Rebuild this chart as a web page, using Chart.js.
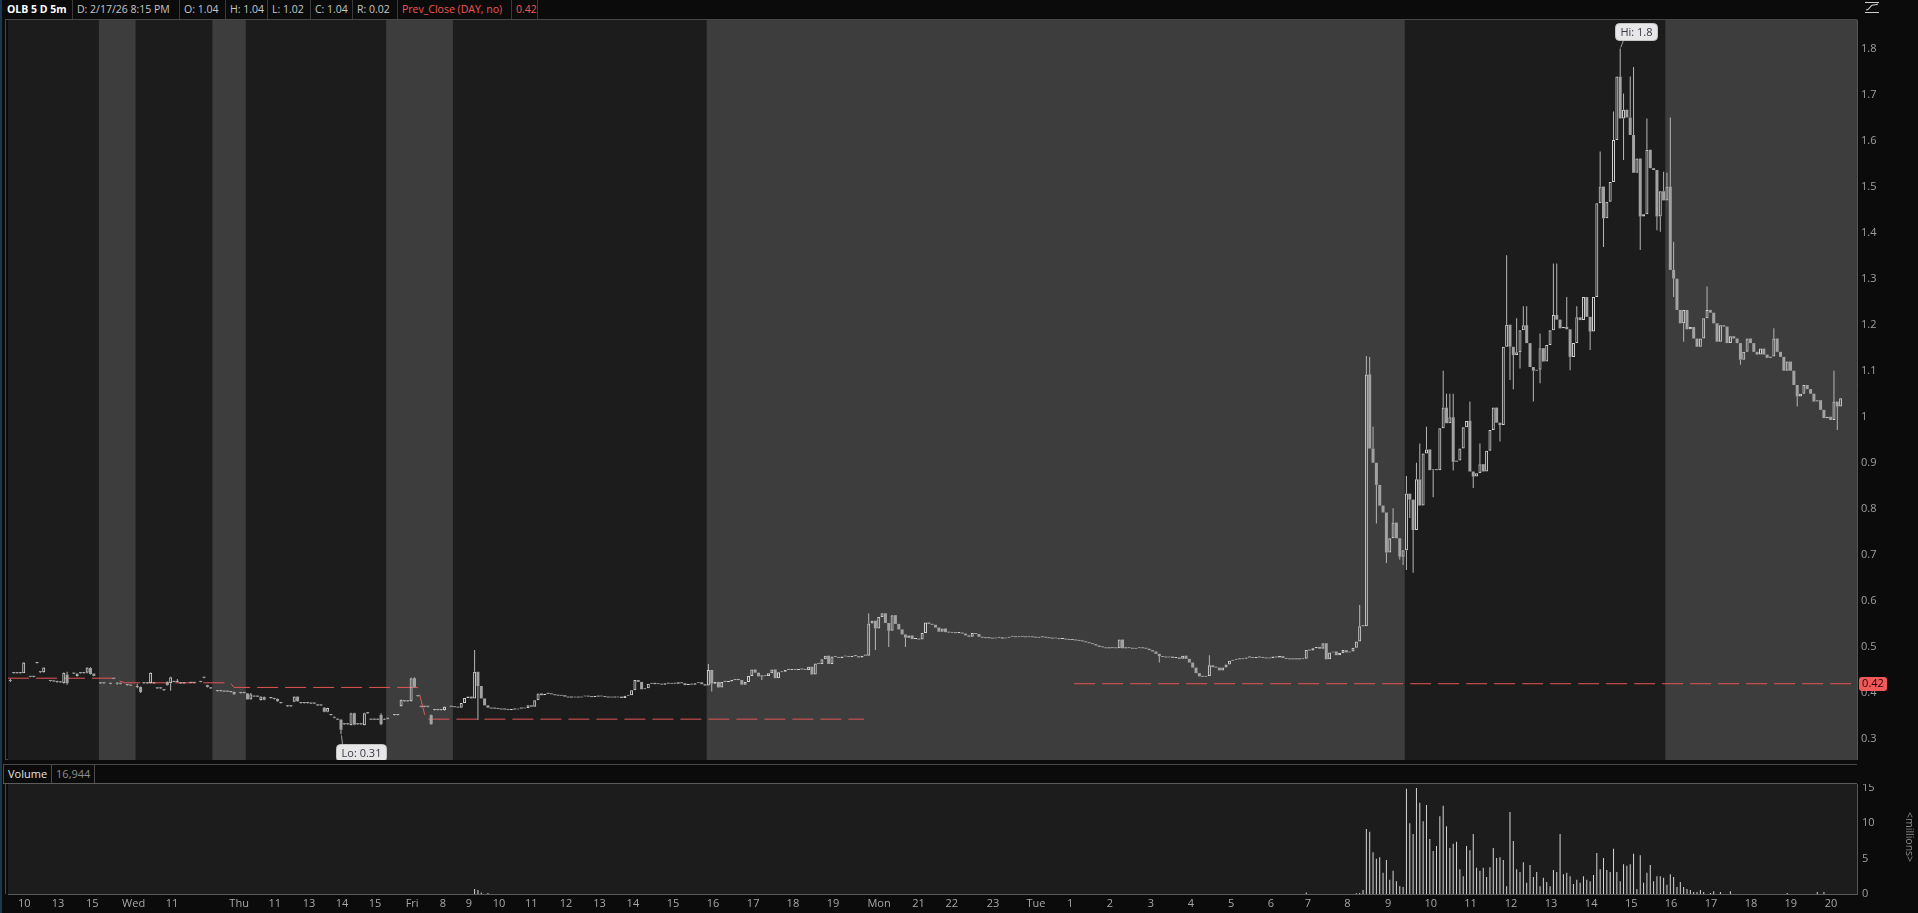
<!DOCTYPE html>
<html>
<head>
<meta charset="utf-8">
<title>OLB 5 D 5m</title>
<script src="https://cdn.jsdelivr.net/npm/chart.js@4.4.1/dist/chart.umd.min.js"></script>
<style>
  html, body { margin: 0; padding: 0; background: #0b0b0b; }
  body { width: 1918px; height: 913px; position: relative; overflow: hidden; font-family: 'Open Sans', sans-serif; }
  .abs { position: absolute; }
  #edge { left: 0; top: 0; width: 2px; height: 913px; background: #173752; }
  #topbar { left: 3px; top: 0; height: 19px; display: flex; font-size: 10.5px; line-height: 19px; }
  #topbar span { display: block; border-right: 1px solid #3a3a3a; padding-left: 4px; white-space: nowrap; color: #c6c6c6; box-sizing: border-box; }
  #topbar .sym { color: #fff; font-weight: 700; }
  #topbar .red { color: #f05656; }
  #panel { left: 5px; top: 19px; width: 1852px; height: 741px; border: 1px solid #474747; border-right: none; box-sizing: border-box; }
  #volHead { left: 3px; top: 764px; width: 1854px; height: 20px; border-top: 1px solid #4a4a4a; border-bottom: 1px solid #5c5c5c; box-sizing: border-box; display: flex; font-size: 11px; line-height: 18px; }
  #volHead span { display: block; border-right: 1px solid #4a4a4a; padding: 0 4px; box-sizing: border-box; }
  #volHead .name { color: #e2e2e2; border-left: 1px solid #4a4a4a; }
  #volHead .val { color: #8e8e8e; }
  #volPanel { left: 5px; top: 784px; width: 3px; height: 110px; border-left: 1px solid #474747; box-sizing: border-box; }
  #millions { left: 1903px; top: 812px; writing-mode: vertical-rl; color: #8a8a8a; font-size: 10.5px; }
  #icon { left: 1864px; top: 1px; }
  #priceCanvas { left: 8px; top: 20px; }
  #volCanvas { left: 8px; top: 784px; }
</style>
</head>
<body>
<div id="edge" class="abs"></div>
<div id="topbar" class="abs">
  <span class="sym" style="width:70px">OLB 5 D 5m</span>
  <span style="width:107px">D: 2/17/26 8:15 PM</span>
  <span style="width:46px">O: 1.04</span>
  <span style="width:42px">H: 1.04</span>
  <span style="width:43px">L: 1.02</span>
  <span style="width:42px">C: 1.04</span>
  <span style="width:45px">R: 0.02</span>
  <span class="red" style="width:114px">Prev_Close (DAY, no)</span>
  <span class="red" style="width:26px">0.42</span>
</div>
<svg id="icon" class="abs" width="16" height="13" viewBox="0 0 16 13">
  <path d="M1 1.5 H15 M1 11.5 H15" stroke="#cfcfcf" stroke-width="1"/>
  <path d="M2 9 C6 9 6 4 9 4 C11 4 12 4 14 3" stroke="#cfcfcf" stroke-width="1.2" fill="none"/>
</svg>
<div id="panel" class="abs"></div>
<canvas id="priceCanvas" class="abs" width="1910" height="740"></canvas>
<div id="volHead" class="abs"><span class="name">Volume</span><span class="val">16,944</span></div>
<div id="volPanel" class="abs"></div>
<canvas id="volCanvas" class="abs" width="1910" height="129"></canvas>
<div id="millions" class="abs">&lt;millions&gt;</div>

<script>
// time axis: one slot per 5-minute bar that exists in the feed
const X_MIN = -0.7, X_MAX = 552.9;

// sparse bars at the start of the week: [slot, open, high, low, close]
const earlyBars = [
  [0,.428,.430,.424,.426],[1,.443,.444,.442,.443],[2,.443,.444,.442,.443],[3,.443,.445,.442,.443],
  [4,.443,.467,.443,.466],[6,.436,.437,.434,.435],[7,.435,.436,.434,.435],[8,.465,.466,.464,.465],
  [9,.445,.446,.444,.445],[10,.445,.456,.444,.455],[12,.427,.428,.425,.426],[13,.426,.427,.424,.425],
  [14,.424,.426,.422,.424],[15,.424,.425,.422,.423],[16,.421,.445,.420,.444],[17,.440,.446,.418,.421],
  [19,.443,.444,.441,.442],[20,.436,.443,.435,.442],[21,.443,.444,.442,.443],[22,.443,.444,.442,.443],
  [23,.444,.456,.443,.455],[24,.454,.456,.440,.441],[25,.442,.443,.436,.437],
  [27,.421,.422,.420,.421],[28,.421,.422,.420,.421],[30,.420,.421,.419,.420],[31,.431,.432,.430,.431],
  [32,.421,.423,.418,.420],[33,.420,.421,.419,.420],[35,.417,.418,.416,.417],[36,.417,.418,.415,.416],
  [38,.413,.420,.410,.413],[39,.413,.414,.400,.402],[40,.421,.422,.420,.421],[41,.421,.422,.420,.421],
  [42,.421,.445,.420,.444],[43,.421,.422,.420,.421],[44,.410,.411,.409,.410],[45,.410,.411,.409,.410],
  [46,.406,.407,.405,.406],[47,.424,.425,.416,.417],[48,.421,.435,.405,.434],[49,.424,.425,.423,.424],
  [50,.424,.430,.423,.424],[51,.421,.422,.420,.421],[52,.421,.422,.420,.421],[54,.422,.423,.421,.422],
  [55,.422,.423,.421,.422],[57,.424,.425,.423,.424],[58,.433,.434,.432,.433],[59,.417,.418,.412,.413],
  [60,.410,.411,.409,.410],[62,.404,.405,.403,.404],[63,.404,.405,.403,.404],[64,.403,.404,.402,.403],
  [65,.403,.404,.402,.403],[66,.402,.403,.401,.402],[67,.402,.403,.396,.397],[69,.400,.401,.399,.400],
  [70,.400,.401,.399,.400],[71,.399,.400,.385,.386],[72,.386,.400,.385,.397],[73,.394,.395,.391,.392],
  [74,.392,.393,.391,.392],[75,.384,.393,.383,.392],[76,.391,.392,.384,.385],[78,.389,.390,.388,.389],
  [79,.387,.388,.386,.387],[80,.387,.388,.381,.382],[81,.378,.379,.377,.378],[83,.371,.372,.370,.371],
  [84,.371,.372,.370,.371],[85,.381,.393,.380,.392],[86,.392,.393,.381,.382],[87,.378,.379,.377,.378],
  [88,.378,.379,.377,.378],[89,.378,.379,.377,.378],[90,.377,.378,.376,.377],[91,.377,.378,.376,.377],
  [92,.373,.374,.372,.373],[93,.373,.374,.372,.373],[94,.368,.369,.358,.359],[95,.359,.368,.358,.367],
  [96,.352,.353,.351,.352],[97,.348,.349,.345,.346],[98,.342,.343,.341,.342],[99,.342,.343,.310,.320],
  [100,.332,.333,.331,.332],[101,.332,.333,.331,.332],[102,.330,.357,.329,.356],[103,.356,.357,.330,.331],
  [104,.332,.333,.331,.332],[105,.332,.333,.331,.332],[106,.330,.357,.329,.356],[107,.356,.357,.355,.356],
  [108,.342,.343,.341,.342],[109,.342,.343,.341,.342],[110,.342,.343,.341,.342],[111,.352,.356,.330,.332],
  [112,.342,.345,.341,.344],[113,.344,.345,.343,.344],[115,.352,.353,.351,.352],[116,.352,.353,.351,.352],
  [117,.371,.386,.370,.385],[118,.382,.383,.381,.382],[119,.382,.383,.381,.382],[120,.382,.433,.381,.432],
  [121,.432,.434,.412,.413],[122,.393,.394,.392,.393],[123,.370,.371,.369,.370],[124,.370,.371,.369,.370],
  [125,.370,.371,.369,.370],[126,.352,.353,.331,.332],[127,.363,.364,.362,.363],[128,.363,.364,.362,.363],
  [129,.363,.364,.362,.363],[130,.363,.371,.362,.370]
];

// continuous bars from slot 132 on: closes (each bar opens at the previous close)
const denseStart = 132;
const denseOpen = 0.370;
const friCloses = [
  .370,.369,.368,.378,.389,.392,.388,.446,.415,.388,
  .373,.368,.366,.366,.365,.364,.364,.363,.364,.364,
  .366,.366,.367,.373,.370,.384,.399,.395,.398,.398,
  .397,.395,.394,.395,.392,.390,.390,.391,.390,.392,
  .393,.392,.391,.392,.392,.393,.391,.390,.391,.390,
  .392,.389,.394,.395,.406,.428,.424,.408,.410,.420,
  .422,.419,.420,.418,.421,.420,.422,.420,.423,.421,
  .417,.420,.418,.421,.423,.419,.416,.450,.420,.424,
  .412,.424,.424,.425,.428,.428,.428,.418,.424,.437,
  .451,.444,.436,.436,.437,.443,.451,.432,.445,.446,
  .450,.450,.451,.450,.451,.451,.450,.457,.440,.464,
  .463,.473,.481,.463,.479,.478,.476,.479,.480,.478,
  .480,.480,.477,.481,.481
];
const overnightCloses = [
  .551,.557,.540,.565,.573,.552,.535,.569,.550,.538,
  .527,.520,.525,.517,.518,.516,.530,.553,.550,.548,
  .542,.533,.540,.532,.531,.532,.530,.531,.529,.525,
  .522,.530,.528,.522,.520,.519,.519,.518,.520,.521,
  .518,.520,.522,.523,.521,.522,.523,.521,.522,.521,
  .520,.522,.521,.520,.519,.518,.519,.517,.518,.516,
  .515,.515,.514,.513,.512,.510,.508,.506,.503,.500,
  .499,.497,.497,.498,.497,.516,.497,.497,.498,.496,
  .497,.498,.497,.496,.493,.490,.485,.480,.478,.477,
  .479,.476,.477,.474,.481,.474,.466,.455,.443,.436,
  .435,.437,.460,.456,.455,.449,.455,.462,.470,.472,
  .473,.473,.474,.477,.477,.476,.478,.477,.476,.475,
  .476,.479,.477,.480,.476,.474,.473,.473,.473,.473,
  .474,.493,.492,.497,.500,.496,.508,.473,.488,.490,
  .482,.487,.493,.488,.490,.498,.512,.545,.545,1.092,
  .931,.900,.852,.807,.792,.705,.736,.770,.736,.696,
  .710
];
const sessionCloses = [
  .833,.820,.754,.864,.807,.920,.929,.884,.886,.884,
  .975,1.020,.986,.999,.902,.905,.931,.977,.991,.881,
  .870,.877,.897,.881,.926,.971,1.020,.987,.982,1.152,
  1.200,1.152,1.134,1.140,1.188,1.199,1.160,1.108,1.100,1.102,
  1.149,1.120,1.156,1.188,1.221,1.211,1.192,1.195,1.190,1.130,
  1.160,1.216,1.210,1.260,1.217,1.185,1.260,1.464,1.500,1.431,
  1.467,1.510,1.601,1.739,1.648,1.667,1.650,1.612,1.530,1.561,
  1.435,1.440,1.580,1.540,1.536,1.435,1.490,1.470
];
const afterCloses = [
  1.500,1.319,1.300,1.232,1.203,1.232,1.190,1.195,1.170,1.152,
  1.170,1.214,1.232,1.226,1.203,1.163,1.199,1.196,1.160,1.175,
  1.170,1.160,1.124,1.141,1.170,1.160,1.141,1.135,1.148,1.135,
  1.128,1.131,1.170,1.141,1.130,1.100,1.120,1.100,1.069,1.044,
  1.050,1.069,1.060,1.050,1.033,1.036,1.015,.997,1.000,.993,
  1.033,1.022,1.040
];
// wicks reaching past the body: [slot, high, low]
const wicks = [
  [139,.493,null],[140,null,.341],[209,.463,null],[210,null,.403],[225,null,.428],
  [257,.573,null],[259,null,.493],[263,null,.500],[268,null,.500],[344,null,.466],[359,.482,null],
  [404,.591,null],[406,1.132,null],[407,1.130,null],[408,.978,null],[409,null,.768],[412,null,.682],
  [414,.801,null],[416,null,.690],[417,null,.678],
  [418,.871,.667],[419,null,.780],[420,null,.661],[421,.900,null],[422,.942,null],[424,.978,null],
  [426,null,.825],[429,1.100,null],[430,1.050,null],[431,1.050,null],[432,1.050,.883],[437,1.033,null],
  [438,null,.845],[440,.942,null],[446,null,.946],[448,1.351,null],[449,null,1.080],[450,null,1.060],
  [451,1.214,null],[452,null,1.105],[453,1.240,null],[454,1.240,null],[456,null,1.033],[458,1.181,1.073],
  [462,1.333,null],[463,1.333,null],[466,1.260,null],[467,null,1.101],[469,1.240,null],[473,null,1.145],
  [476,1.576,null],[477,null,1.369],[480,1.663,null],[482,1.800,null],[483,1.702,1.558],[485,1.739,null],
  [486,1.760,null],[488,null,1.362],[490,1.648,null],[493,null,1.405],[494,null,1.402],[495,1.532,null],
  [496,1.530,null],[497,1.650,null],[498,1.380,1.260],[501,null,1.163],[508,1.283,null],[518,null,1.113],
  [528,1.192,null],[535,null,1.022],[546,1.100,null],[547,null,.971]
];

// volume in millions
const volumeStart = 403;
const volumes = [
  0.1,0.15,0.57,9.2,8.8,5.9,5.0,5.2,3.0,4.8,
  2.0,3.3,1.8,1.1,1.0,14.9,10.0,8.5,15.0,12.9,
  10.3,12.6,7.8,6.1,6.8,11.0,12.5,9.6,6.5,7.1,
  7.4,3.5,2.5,6.8,6.2,8.5,3.7,3.3,3.7,2.4,
  3.8,6.5,5.1,5.2,4.8,1.1,11.6,7.5,3.5,3.1,
  4.5,1.6,4.1,2.4,3.1,1.1,2.3,1.7,1.1,3.4,
  3.1,8.5,2.8,3.0,2.5,1.4,2.0,1.6,2.5,2.0,
  1.8,2.7,5.8,3.5,5.1,3.4,3.1,6.4,3.1,1.8,
  4.2,4.0,4.2,5.7,0.7,5.5,1.6,3.0,4.1,1.8,
  2.5,2.5,2.3,1.3,2.8,2.4,1.0,1.7,1.0,0.7,
  0.57,0.3,0.3,0.57,0.3,null,0.15,0.4,null,0.3,
  null,null,0.4
];
const otherVolumes = [[139,0.7],[140,0.55],[141,0.2],[143,0.15],[388,0.2],[532,0.15],[541,0.3],[543,0.3]];

// previous close reference line (null breaks it)
const prevCloseSlots  = [-0.7, 30.3, 34.3, 65.8, 67, 122, 124.4, 255.6, 287, 318.5, 552.9];
const prevCloseValues = [.432, .432, .422, .422, .412, .412, .343, .343, null, .42, .42];
const lastPrevClose = 0.42;

// regular trading hours (dark background), in slots
const rthSessions = [[-0.7, 26.5], [37.5, 60.5], [70.5, 112.5], [132.5, 208.5], [417.5, 495.5]];

const hiMark = [482, 1.8];
const loMark = [99, 0.31];

const priceTicks = [0.3, 0.4, 0.5, 0.6, 0.7, 0.8, 0.9, 1, 1.1, 1.2, 1.3, 1.4, 1.5, 1.6, 1.7, 1.8];
const volumeTicks = [0, 5, 10, 15];
const tickSlots = [4.2, 14.3, 24.5, 36.9, 48.4, 68.5, 79.2, 89.4, 99.3, 109.2, 120.3, 129.5, 137.3, 146.3,
  156.0, 166.4, 176.4, 186.4, 198.4, 210.4, 222.4, 234.3, 246.3, 260.1, 271.9, 281.9, 294.2, 307.1,
  317.3, 329.2, 341.5, 353.5, 365.5, 377.4, 388.5, 400.3, 412.5, 425.3, 437.2, 449.3, 461.3, 473.3,
  485.3, 497.2, 509.2, 521.2, 533.1, 545.1];
const tickLabels = ['10', '13', '15', 'Wed', '11', 'Thu', '11', '13', '14', '15', 'Fri', '8', '9', '10',
  '11', '12', '13', '14', '15', '16', '17', '18', '19', 'Mon', '21', '22', '23', 'Tue',
  '1', '2', '3', '4', '5', '6', '7', '8', '9', '10', '11', '12', '13', '14',
  '15', '16', '17', '18', '19', '20'];

// ---- build candles ----
const candles = earlyBars.map(([s, o, h, l, c]) => ({ s, o, h, l, c }));
const wickAt = new Map(wicks.map(([s, h, l]) => [s, { h, l }]));
let prev = denseOpen;
[...friCloses, ...overnightCloses, ...sessionCloses, ...afterCloses].forEach((c, i) => {
  const s = denseStart + i;
  const w = wickAt.get(s) || {};
  const o = prev;
  candles.push({ s, o, c, h: Math.max(o, c, w.h ?? 0), l: Math.min(o, c, w.l ?? 99) });
  prev = c;
});

const UP = '#d2d2d2', DOWN = '#a2a2a2', WICK = '#b6b6b6';

Chart.defaults.font.family = "'Open Sans', sans-serif";
Chart.defaults.font.size = 11;
Chart.defaults.color = '#a0a0a0';

function noPad(scale) {
  scale.paddingTop = 0; scale.paddingBottom = 0; scale.paddingLeft = 0; scale.paddingRight = 0;
}

const sessionBands = {
  id: 'sessionBands',
  beforeDatasetsDraw(chart) {
    const { ctx, chartArea: a, scales: { x } } = chart;
    ctx.save();
    ctx.fillStyle = '#3d3d3d';
    ctx.fillRect(a.left, a.top, a.width, a.height);
    ctx.fillStyle = '#1c1c1c';
    rthSessions.forEach(([s, e]) => {
      const x0 = Math.max(a.left, x.getPixelForValue(s));
      const x1 = Math.min(a.right, x.getPixelForValue(e));
      ctx.fillRect(x0, a.top, x1 - x0, a.height);
    });
    ctx.restore();
  }
};

function bubble(ctx, x, y, text, above) {
  ctx.font = "11px 'Open Sans', sans-serif";
  const w = Math.round(ctx.measureText(text).width + 10), h = 17;
  const bx = Math.round(x - 5) + 0.5;
  const by = above ? Math.round(y - 8 - h) + 0.5 : Math.round(y + 10) + 0.5;
  ctx.strokeStyle = '#9a9a9a';
  ctx.lineWidth = 1;
  ctx.beginPath();
  if (above) { ctx.moveTo(bx + 8, by + h); ctx.lineTo(x + 0.5, y - 1); }
  else { ctx.moveTo(bx + 6, by); ctx.lineTo(x + 0.5, y + 1); }
  ctx.stroke();
  ctx.fillStyle = '#e7e7e7';
  ctx.strokeStyle = '#c4c4c4';
  ctx.beginPath();
  ctx.roundRect(bx, by, w, h, 4);
  ctx.fill();
  ctx.stroke();
  ctx.fillStyle = '#3b3648';
  ctx.textAlign = 'center';
  ctx.textBaseline = 'middle';
  ctx.fillText(text, bx + w / 2, by + h / 2 + 0.5);
}

const priceMarks = {
  id: 'priceMarks',
  afterDraw(chart) {
    const { ctx, chartArea: a, scales: { x, y } } = chart;
    ctx.save();
    bubble(ctx, x.getPixelForValue(hiMark[0]), y.getPixelForValue(hiMark[1]), 'Hi: ' + hiMark[1], true);
    bubble(ctx, x.getPixelForValue(loMark[0]), y.getPixelForValue(loMark[1]), 'Lo: ' + loMark[1], false);
    // last prev close tag on the price axis
    const py = y.getPixelForValue(lastPrevClose);
    ctx.fillStyle = '#f05a5a';
    ctx.beginPath();
    ctx.roundRect(a.right + 2, Math.round(py - 7), 28, 14, 3);
    ctx.fill();
    ctx.fillStyle = '#2a0404';
    ctx.font = "11px 'Open Sans', sans-serif";
    ctx.textAlign = 'center';
    ctx.textBaseline = 'middle';
    ctx.fillText(lastPrevClose.toFixed(2), a.right + 16, py + 0.5);
    ctx.restore();
  }
};

new Chart(document.getElementById('priceCanvas'), {
  type: 'bar',
  data: {
    datasets: [
      {
        label: 'Body',
        order: 0,
        data: candles.map(k => ({ x: k.s, y: [k.o, k.c] })),
        backgroundColor: ctx => { const k = candles[ctx.dataIndex]; return k.c > k.o ? 'rgba(0,0,0,0)' : (k.c < k.o ? DOWN : '#b0b0b0'); },
        borderColor: ctx => { const k = candles[ctx.dataIndex]; return k.c > k.o ? UP : DOWN; },
        borderWidth: ctx => { const k = candles[ctx.dataIndex]; return k.c > k.o ? 1 : 0; },
        borderSkipped: false,
        inflateAmount: 0,
        barThickness: 3,
        maxBarThickness: 3,
        minBarLength: 1,
        grouped: false
      },
      {
        label: 'Upper wick',
        order: 1,
        data: candles.filter(k => k.h > Math.max(k.o, k.c)).map(k => ({ x: k.s, y: [Math.max(k.o, k.c), k.h] })),
        backgroundColor: WICK,
        borderWidth: 0,
        inflateAmount: 0,
        barThickness: 1,
        maxBarThickness: 1,
        grouped: false
      },
      {
        label: 'Lower wick',
        order: 1,
        data: candles.filter(k => k.l < Math.min(k.o, k.c)).map(k => ({ x: k.s, y: [k.l, Math.min(k.o, k.c)] })),
        backgroundColor: WICK,
        borderWidth: 0,
        inflateAmount: 0,
        barThickness: 1,
        maxBarThickness: 1,
        grouped: false
      },
      {
        type: 'line',
        label: 'Prev_Close',
        order: 2,
        data: prevCloseSlots.map((s, i) => ({ x: s, y: prevCloseValues[i] })),
        borderColor: '#e45555',
        borderWidth: 1,
        borderDash: [21, 7],
        pointRadius: 0,
        spanGaps: false,
        tension: 0
      }
    ]
  },
  options: {
    responsive: false,
    animation: false,
    devicePixelRatio: 1,
    layout: { padding: 0 },
    plugins: { legend: { display: false }, tooltip: { enabled: false } },
    scales: {
      x: { type: 'linear', min: X_MIN, max: X_MAX, display: false, offset: false },
      y: {
        position: 'right',
        min: 0.2543,
        max: 1.8619,
        grid: { display: false, drawTicks: false },
        border: { display: true, color: '#555555' },
        ticks: {
          padding: 4,
          color: '#a0a0a0',
          font: { size: 11 },
          callback: v => (v === 1 ? '1' : v.toFixed(1))
        },
        afterBuildTicks: s => { s.ticks = priceTicks.map(v => ({ value: v })); },
        afterFit: s => { s.width = 61; noPad(s); }
      }
    }
  },
  plugins: [sessionBands, priceMarks]
});

const volPoints = [
  ...otherVolumes.map(([s, v]) => ({ x: s, y: v })),
  ...volumes.map((v, i) => ({ x: volumeStart + i, y: v })).filter(p => p.y !== null)
];

const volBackground = {
  id: 'volBackground',
  beforeDatasetsDraw(chart) {
    const { ctx, chartArea: a } = chart;
    ctx.save();
    ctx.fillStyle = '#1c1c1c';
    ctx.fillRect(a.left, a.top, a.width, a.height);
    ctx.restore();
  }
};

new Chart(document.getElementById('volCanvas'), {
  type: 'bar',
  data: {
    datasets: [{
      label: 'Volume',
      data: volPoints,
      backgroundColor: '#d6d6d6',
      borderWidth: 0,
      inflateAmount: 0,
      barThickness: 1,
      maxBarThickness: 1,
      grouped: false
    }]
  },
  options: {
    responsive: false,
    animation: false,
    devicePixelRatio: 1,
    layout: { padding: 0 },
    plugins: { legend: { display: false }, tooltip: { enabled: false } },
    scales: {
      x: {
        type: 'linear', min: X_MIN, max: X_MAX, offset: false,
        grid: { display: false, drawTicks: false },
        border: { display: true, color: '#5c5c5c' },
        ticks: {
          padding: 3, autoSkip: false, maxRotation: 0, color: '#a8a8a8', font: { size: 11 },
          callback: (v, i) => tickLabels[i]
        },
        afterBuildTicks: s => { s.ticks = tickSlots.map(v => ({ value: v })); },
        afterFit: s => { s.height = 19; noPad(s); }
      },
      y: {
        position: 'right', min: 0, max: 15.57,
        grid: { display: false, drawTicks: false },
        border: { display: true, color: '#555555' },
        ticks: { padding: 5, color: '#a0a0a0', font: { size: 11 } },
        afterBuildTicks: s => { s.ticks = volumeTicks.map(v => ({ value: v })); },
        afterFit: s => { s.width = 61; noPad(s); }
      }
    }
  },
  plugins: [volBackground]
});
</script>
</body>
</html>
